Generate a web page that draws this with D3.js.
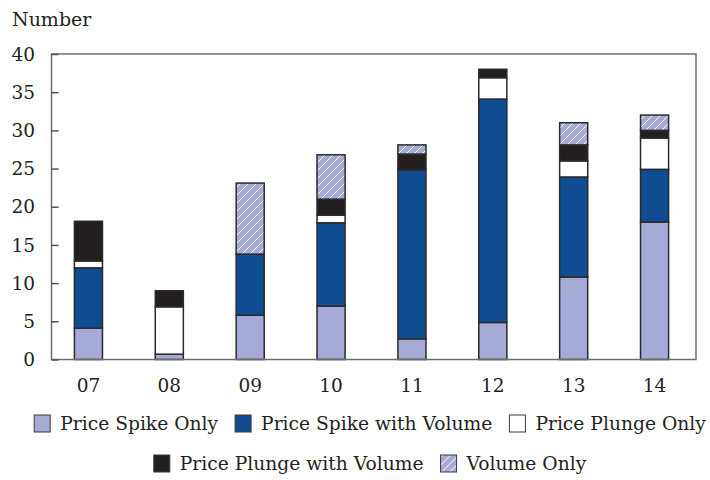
<!DOCTYPE html>
<html>
<head>
<meta charset="utf-8">
<script src="https://cdn.jsdelivr.net/npm/d3@7"></script>
<style>
  body { margin: 0; background: #fff; }
  text { font-family: "DejaVu Serif", serif; fill: #231f20; }
</style>
</head>
<body>
<div id="chart"></div>
<script>
let width = 710,
    height = 480;

// data
let years = ["07", "08", "09", "10", "11", "12", "13", "14"];
let spikeOnly        = [4.1, 0.7, 5.8, 7.0, 2.7, 4.85, 10.8, 18.0];
let spikeWithVolume  = [7.9, 0, 8.0, 10.9, 22.1, 29.25, 13.1, 6.9];
let plungeOnly       = [0.9, 6.2, 0, 1.0, 0, 2.8, 2.1, 4.1];
let plungeWithVolume = [5.2, 2.1, 0, 2.1, 2.1, 1.1, 2.1, 1.0];
let volumeOnly       = [0, 0, 9.3, 5.8, 1.2, 0, 2.9, 2.0];
let yTicks = [0, 5, 10, 15, 20, 25, 30, 35, 40];

let seriesNames = ["Price Spike Only", "Price Spike with Volume", "Price Plunge Only",
                   "Price Plunge with Volume", "Volume Only"];
let seriesKeys = ["spikeOnly", "spikeWithVolume", "plungeOnly", "plungeWithVolume", "volumeOnly"];
let fills = ["#a5aad6", "#0f4c91", "#ffffff", "#231f20", "url(#hatch)"];

let rows = years.map((y, i) => ({
  year: y,
  spikeOnly: spikeOnly[i],
  spikeWithVolume: spikeWithVolume[i],
  plungeOnly: plungeOnly[i],
  plungeWithVolume: plungeWithVolume[i],
  volumeOnly: volumeOnly[i]
}));

let plot = {left: 51.5, right: 696, top: 54, bottom: 359.5};

let svg = d3.select("#chart").append("svg")
    .attr("width", width)
    .attr("height", height);

// hatch for "Volume Only"
let pat = svg.append("defs").append("pattern")
    .attr("id", "hatch")
    .attr("patternUnits", "userSpaceOnUse")
    .attr("width", 8)
    .attr("height", 8);
pat.append("rect").attr("width", 8).attr("height", 8).attr("fill", "#a5aad6");
pat.append("path")
    .attr("d", "M-2,2 l4,-4 M0,8 l8,-8 M6,10 l4,-4")
    .attr("stroke", "#fff")
    .attr("stroke-width", 1);

let x = d3.scaleBand()
    .domain(years)
    .range([48, 695])
    .paddingInner(0.653)
    .paddingOuter(0.3265);

let y = d3.scaleLinear()
    .domain([0, 40])
    .range([plot.bottom, plot.top]);

let stack = d3.stack().keys(seriesKeys);
let layers = stack(rows);

svg.append("g")
  .selectAll("g")
  .data(layers)
  .enter().append("g")
    .attr("fill", (d, i) => fills[i])
  .selectAll("rect")
  .data(d => d.filter(p => p[1] - p[0] > 0))
  .enter().append("rect")
    .attr("x", d => x(d.data.year))
    .attr("width", x.bandwidth())
    .attr("y", d => y(d[1]))
    .attr("height", d => y(d[0]) - y(d[1]))
    .attr("stroke", "#2b2a2b")
    .attr("stroke-width", 1.5);

// frame
svg.append("rect")
    .attr("x", plot.left)
    .attr("y", plot.top)
    .attr("width", plot.right - plot.left)
    .attr("height", plot.bottom - plot.top)
    .attr("fill", "none")
    .attr("stroke", "#6d6d6d")
    .attr("stroke-width", 1.5);

// y axis (ticks point inward)
let yAxis = d3.axisRight(y)
    .tickValues(yTicks)
    .tickSize(7)
    .tickFormat("");
let ya = svg.append("g")
    .attr("transform", "translate(" + plot.left + ",0)")
    .call(yAxis);
ya.select(".domain").remove();
ya.selectAll("line").attr("stroke", "#555").attr("stroke-width", 1.5);

svg.append("g")
  .selectAll("text")
  .data(yTicks)
  .enter().append("text")
    .attr("x", 35)
    .attr("y", d => y(d))
    .attr("dy", "0.36em")
    .attr("text-anchor", "end")
    .style("font-size", "18.5px")
    .text(d => d);

svg.append("g")
  .selectAll("text")
  .data(years)
  .enter().append("text")
    .attr("x", d => x(d) + x.bandwidth() / 2)
    .attr("y", 392)
    .attr("text-anchor", "middle")
    .style("font-size", "18.5px")
    .text(d => d);

svg.append("text")
    .attr("x", 12)
    .attr("y", 26)
    .style("font-size", "19px")
    .text("Number");

// legend, two centred rows
let legendRows = [[0, 1, 2], [3, 4]];
let legendY = [415, 455];
legendRows.forEach((idx, r) => {
  let g = svg.append("g");
  let cx = 0;
  idx.forEach(i => {
    g.append("rect")
        .attr("x", cx)
        .attr("y", legendY[r])
        .attr("width", 16)
        .attr("height", 17)
        .attr("fill", fills[i])
        .attr("stroke", "#3a3a3a")
        .attr("stroke-width", 1);
    let t = g.append("text")
        .attr("x", cx + 26)
        .attr("y", legendY[r] + 15)
        .style("font-size", "18.7px")
        .text(seriesNames[i]);
    cx += 26 + t.node().getComputedTextLength() + 17;
  });
  let w = cx - 17;
  g.attr("transform", "translate(" + (370 - w / 2) + ",0)");
});
</script>
</body>
</html>
